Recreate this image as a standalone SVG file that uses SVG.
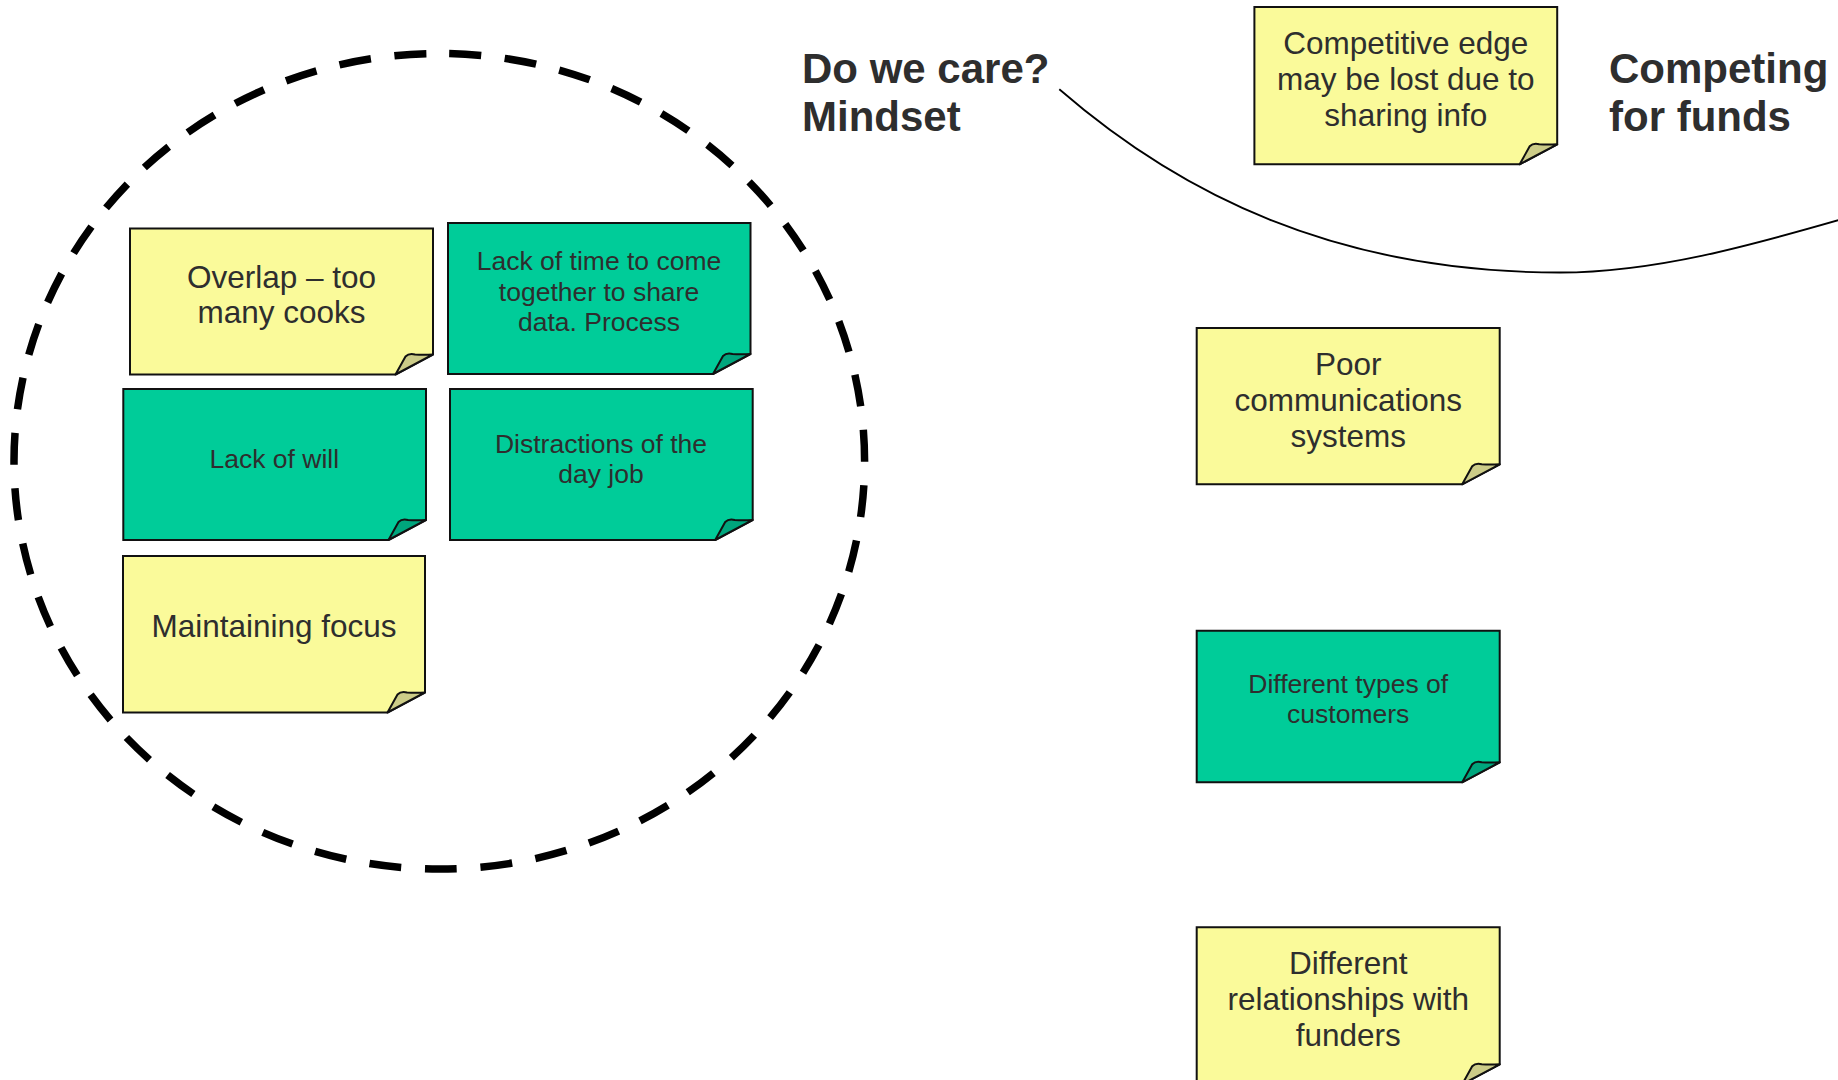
<svg xmlns="http://www.w3.org/2000/svg" width="1838" height="1080" viewBox="0 0 1838 1080">
  <style>
    .yellow .body { fill: #FAFA9A; stroke: #111; stroke-width: 2; stroke-linejoin: miter; }
    .yellow .flap { fill: #CCCC88; stroke: #111; stroke-width: 2; stroke-linejoin: round; }
    .green .body { fill: #00CC99; stroke: #111; stroke-width: 2; stroke-linejoin: miter; }
    .green .flap { fill: #00A67D; stroke: #111; stroke-width: 2; stroke-linejoin: round; }
    .txt { font-family: "Liberation Sans", Arial, sans-serif; fill: #2E2E2E; text-anchor: middle; }
    .big { font-size: 31.5px; }
    .small { font-size: 26.5px; }
    .title { font-family: "Liberation Sans", Arial, sans-serif; font-weight: bold; font-size: 42px; fill: #2E2E2E; }
    .ring { fill: none; stroke: #000; stroke-width: 7.5; stroke-dasharray: 32 23.69; stroke-dashoffset: -10; }
    .arc { fill: none; stroke: #000; stroke-width: 1.8; }
  </style>

  <!-- dashed grouping ring -->
  <path class="ring" d="M 439.3 53.5 A 425.3 407.8 0 0 1 439.3 869.1 A 425.3 407.8 0 0 1 439.3 53.5 Z"/>

  <!-- connectors -->
  <g id="connectors">
    <path class="arc" d="M 1059.3 89.3 C 1179.3 193.3 1335 272.5 1560 272.5 C 1655 272.5 1752 245 1840 219.7"/>
  </g>

  <!-- headings -->
  <g id="title-care">
    <text class="title" x="802" y="83">Do we care?</text>
    <text class="title" x="802" y="131">Mindset</text>
  </g>
  <g id="title-funds">
    <text class="title" x="1609" y="83">Competing</text>
    <text class="title" x="1609" y="131">for funds</text>
  </g>

  <!-- sticky notes: body with a curled bottom-right corner -->
  <g id="note-overlap" class="yellow" transform="translate(130,228.5)">
    <path class="body" d="M0,0 H303 V126 L265.5,146 H0 Z"/>
    <path class="flap" d="M265.5,146 L275.5,128 Q279,124.5 285,126 Q293,126.5 303,126 Z"/>
    <text class="txt big" x="151.5" y="59.5">Overlap – too</text>
    <text class="txt big" x="151.5" y="94.5">many cooks</text>
  </g>

  <g id="note-time" class="green" transform="translate(448,223)">
    <path class="body" d="M0,0 H302.5 V131 L265,151 H0 Z"/>
    <path class="flap" d="M265,151 L275,133 Q278.5,129.5 284.5,131 Q292.5,131.5 302.5,131 Z"/>
    <text class="txt small" x="151" y="47">Lack of time to come</text>
    <text class="txt small" x="151" y="77.5">together to share</text>
    <text class="txt small" x="151" y="108">data. Process</text>
  </g>

  <g id="note-will" class="green" transform="translate(123.3,389)">
    <path class="body" d="M0,0 H302.7 V131 L265.2,151 H0 Z"/>
    <path class="flap" d="M265.2,151 L275.2,133 Q278.7,129.5 284.7,131 Q292.7,131.5 302.7,131 Z"/>
    <text class="txt small" x="151" y="79">Lack of will</text>
  </g>

  <g id="note-distractions" class="green" transform="translate(450,389)">
    <path class="body" d="M0,0 H302.7 V131 L265.2,151 H0 Z"/>
    <path class="flap" d="M265.2,151 L275.2,133 Q278.7,129.5 284.7,131 Q292.7,131.5 302.7,131 Z"/>
    <text class="txt small" x="151" y="64">Distractions of the</text>
    <text class="txt small" x="151" y="93.5">day job</text>
  </g>

  <g id="note-focus" class="yellow" transform="translate(123,556)">
    <path class="body" d="M0,0 H302 V136.5 L264.5,156.5 H0 Z"/>
    <path class="flap" d="M264.5,156.5 L274.5,138.5 Q278,135 284,136.5 Q292,137 302,136.5 Z"/>
    <text class="txt big" x="151" y="81">Maintaining focus</text>
  </g>

  <g id="note-edge" class="yellow" transform="translate(1254.4,7)">
    <path class="body" d="M0,0 H302.8 V137.3 L265.3,157.3 H0 Z"/>
    <path class="flap" d="M265.3,157.3 L275.3,139.3 Q278.8,135.8 284.8,137.3 Q292.8,137.8 302.8,137.3 Z"/>
    <text class="txt big" x="151.4" y="47">Competitive edge</text>
    <text class="txt big" x="151.4" y="83">may be lost due to</text>
    <text class="txt big" x="151.4" y="119">sharing info</text>
  </g>

  <g id="note-comms" class="yellow" transform="translate(1196.7,328)">
    <path class="body" d="M0,0 H303 V136.3 L265.5,156.3 H0 Z"/>
    <path class="flap" d="M265.5,156.3 L275.5,138.3 Q279,134.8 285,136.3 Q293,136.8 303,136.3 Z"/>
    <text class="txt big" x="151.5" y="47">Poor</text>
    <text class="txt big" x="151.5" y="83">communications</text>
    <text class="txt big" x="151.5" y="119">systems</text>
  </g>

  <g id="note-customers" class="green" transform="translate(1196.7,630.7)">
    <path class="body" d="M0,0 H303 V131.6 L265.5,151.6 H0 Z"/>
    <path class="flap" d="M265.5,151.6 L275.5,133.6 Q279,130.1 285,131.6 Q293,132.1 303,131.6 Z"/>
    <text class="txt small" x="151.5" y="62.5">Different types of</text>
    <text class="txt small" x="151.5" y="92.5">customers</text>
  </g>

  <g id="note-funders" class="yellow" transform="translate(1196.7,927.3)">
    <path class="body" d="M0,0 H303 V137 L265.5,157 H0 Z"/>
    <path class="flap" d="M265.5,157 L275.5,139 Q279,135.5 285,137 Q293,137.5 303,137 Z"/>
    <text class="txt big" x="151.5" y="47">Different</text>
    <text class="txt big" x="151.5" y="83">relationships with</text>
    <text class="txt big" x="151.5" y="119">funders</text>
  </g>
</svg>
